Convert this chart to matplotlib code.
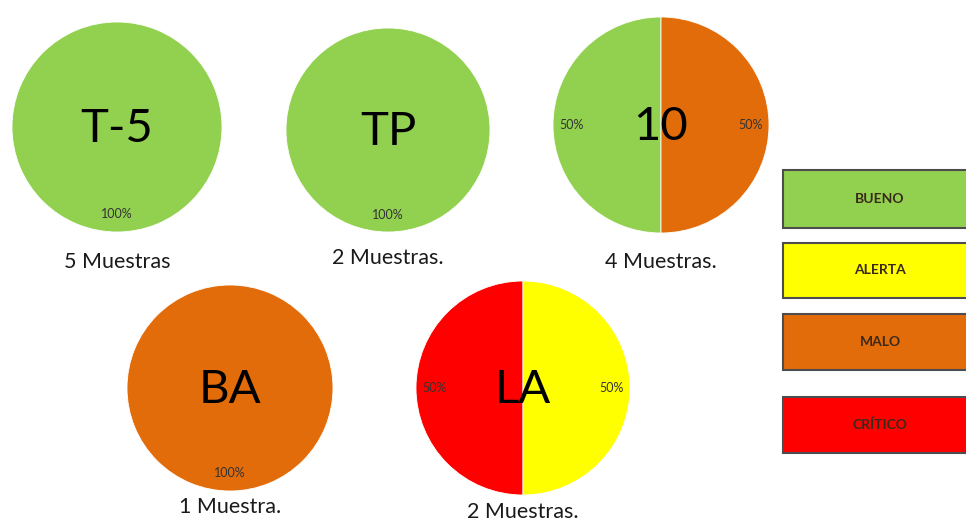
import matplotlib.pyplot as plt
from matplotlib.patches import Rectangle

plt.rcParams['font.family'] = ['Lato', 'DejaVu Sans']

GREEN = '#92D050'
YELLOW = '#FFFF00'
ORANGE = '#E36C0A'
RED = '#FF0000'

# one pie per sampling point
names = ['T-5', 'TP', '10', 'BA', 'LA']
samples = ['5 Muestras', '2 Muestras.', '4 Muestras.', '1 Muestra.', '2 Muestras.']
shares = [[100], [100], [50, 50], [100], [50, 50]]
wedge_colors = [[GREEN], [GREEN], [GREEN, ORANGE], [ORANGE], [RED, YELLOW]]

legend_labels = ['BUENO', 'ALERTA', 'MALO', 'CRÍTICO']
legend_colors = [GREEN, YELLOW, ORANGE, RED]

# layout in pixels (y up)
centers = [(117, 394), (388, 391), (661, 396), (230, 133), (523, 133)]
radii = [105, 102, 108, 103, 107]
sample_y = [259, 263, 259, 14, 9]
legend_y = [(170, 228), (243, 298), (314, 370), (397, 453)]  # y down

W, H = 966, 521
fig = plt.figure(figsize=(W / 100, H / 100), dpi=100)
ax = fig.add_axes([0, 0, 1, 1])

for name, smp, vals, cols, c, r, sy in zip(names, samples, shares, wedge_colors,
                                           centers, radii, sample_y):
    ax.pie(vals, colors=cols, center=c, radius=r, startangle=90,
           autopct='%d%%', pctdistance=0.83, frame=True,
           wedgeprops=dict(linewidth=0.6, edgecolor='white'),
           textprops=dict(fontsize=9, color='#333333'))
    ax.text(c[0], c[1] - 2, name, ha='center', va='center', fontsize=34)
    ax.text(c[0], sy, smp, ha='center', va='center', fontsize=15.5,
            color='#1a1a1a')

ax.set_xlim(0, W)
ax.set_ylim(0, H)
ax.set_aspect('equal')
ax.axis('off')

for lab, col, (y0, y1) in zip(legend_labels, legend_colors, legend_y):
    ax.add_patch(Rectangle((783, H - y1), 200, y1 - y0, facecolor=col,
                           edgecolor='#4d4d4d', linewidth=1.5, clip_on=False))
    ax.text(880, H - (y0 + y1) / 2, lab, ha='center', va='center',
            fontsize=10, fontweight='bold', color='#3a2a1a')

fig.savefig('out.png', dpi=100)
